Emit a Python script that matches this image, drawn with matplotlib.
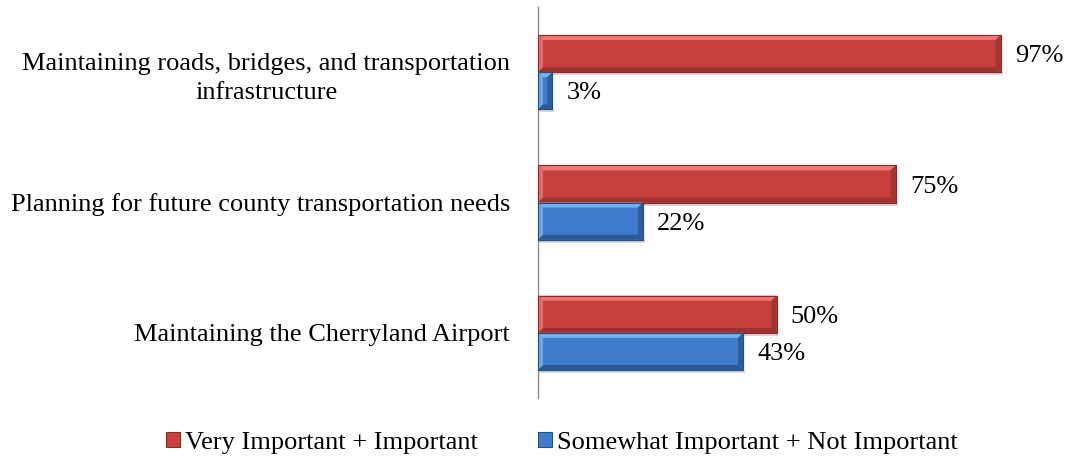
import matplotlib
matplotlib.use("Agg")
import matplotlib.pyplot as plt
from matplotlib.patches import Polygon, Patch
import numpy as np

categories = ["Maintaining roads, bridges, and transportation\ninfrastructure",
              "Planning for future county transportation needs",
              "Maintaining the Cherryland Airport"]
very_important = [97, 75, 50]
somewhat = [3, 22, 43]
series_names = ["Very Important + Important", "Somewhat Important + Not Important"]

plt.rcParams['font.family'] = ['Liberation Serif', 'DejaVu Serif']

W, H = 1073, 465
fig = plt.figure(figsize=(W / 100, H / 100), dpi=100)
ax = fig.add_axes([538 / W, 1 - 398 / H, (1015 - 538) / W, (398 - 7) / H])

y = np.arange(len(categories))
bh = 0.285

red_main, red_light, red_dark, red_edge = "#C8403E", "#EE7573", "#9C3331", "#8A2C2A"
blue_main, blue_light, blue_dark, blue_edge = "#3F7CCB", "#74B2F0", "#2B5A96", "#26507F"

bars_r = ax.barh(y - bh / 2, very_important, height=bh, color=red_main,
                 edgecolor=red_edge, linewidth=0.8, zorder=3)
bars_b = ax.barh(y + bh / 2, somewhat, height=bh, color=blue_main,
                 edgecolor=blue_edge, linewidth=0.8, zorder=3)

ax.set_xlim(0, 100)
ax.set_ylim(len(categories) - 0.5, -0.5)

# bevel sizes in data units (~5 px)
px_x = 100 / (1015 - 538)
px_y = 3.0 / (398 - 7)
bx, by = 5 * px_x, 5 * px_y


def bevel(bar, light, dark):
    x0, y0 = bar.get_x(), bar.get_y()
    w, h = bar.get_width(), bar.get_height()
    x1, y1 = x0 + w, y0 + h
    dx = min(bx, w / 2)
    ax.add_patch(Polygon([[x0, y0], [x1, y0], [x1 - dx, y0 + by], [x0 + dx, y0 + by]],
                         closed=True, facecolor=light, edgecolor='none', zorder=4))
    ax.add_patch(Polygon([[x0, y1], [x1, y1], [x1 - dx, y1 - by], [x0 + dx, y1 - by]],
                         closed=True, facecolor=dark, edgecolor='none', zorder=4))
    ax.add_patch(Polygon([[x0, y0], [x0 + dx, y0 + by], [x0 + dx, y1 - by], [x0, y1]],
                         closed=True, facecolor=light, edgecolor='none', zorder=4, alpha=0.8))
    ax.add_patch(Polygon([[x1, y0], [x1 - dx, y0 + by], [x1 - dx, y1 - by], [x1, y1]],
                         closed=True, facecolor=dark, edgecolor='none', zorder=4, alpha=0.9))
    ax.add_patch(Polygon([[x0, y0], [x1, y0], [x1, y1], [x0, y1]], closed=True,
                         facecolor='none', edgecolor=bar.get_edgecolor(), linewidth=0.8, zorder=5))
    ax.add_patch(Polygon([[x0 + 0.3, y1], [x1 + 0.4, y1], [x1 + 0.4, y1 + 3 * px_y],
                          [x0 + 0.3, y1 + 3 * px_y]], closed=True,
                         facecolor='#D8D8D8', edgecolor='none', zorder=2))


for b in bars_r:
    bevel(b, red_light, red_dark)
for b in bars_b:
    bevel(b, blue_light, blue_dark)

FS = 19
for bars, vals in ((bars_r, very_important), (bars_b, somewhat)):
    for b, v in zip(bars, vals):
        ax.text(b.get_width() + 3.0, b.get_y() + b.get_height() / 2 + 0.02, f"{v}%",
                va='center', ha='left', fontsize=FS, color='black', zorder=6)

ax.set_yticks(y)
ax.set_yticklabels(categories, fontsize=FS, ha='right', multialignment='center',
                   linespacing=1.45)
ax.tick_params(axis='y', length=0, pad=20)
ax.set_xticks([])
for s in ['top', 'right', 'bottom']:
    ax.spines[s].set_visible(False)
ax.spines['left'].set_color('#8C8C8C')
ax.spines['left'].set_linewidth(1.0)

handles = [Patch(facecolor=red_main, edgecolor=red_edge, linewidth=0.8),
           Patch(facecolor=blue_main, edgecolor=blue_edge, linewidth=0.8)]
fig.legend(handles, series_names, loc='center', bbox_to_anchor=(562 / W, 1 - 443 / H),
           ncol=2, frameon=False, fontsize=FS, handlelength=0.5, handleheight=0.5,
           handletextpad=0.2, columnspacing=2.3, borderpad=0, borderaxespad=0)

fig.savefig("out.png", dpi=100)
